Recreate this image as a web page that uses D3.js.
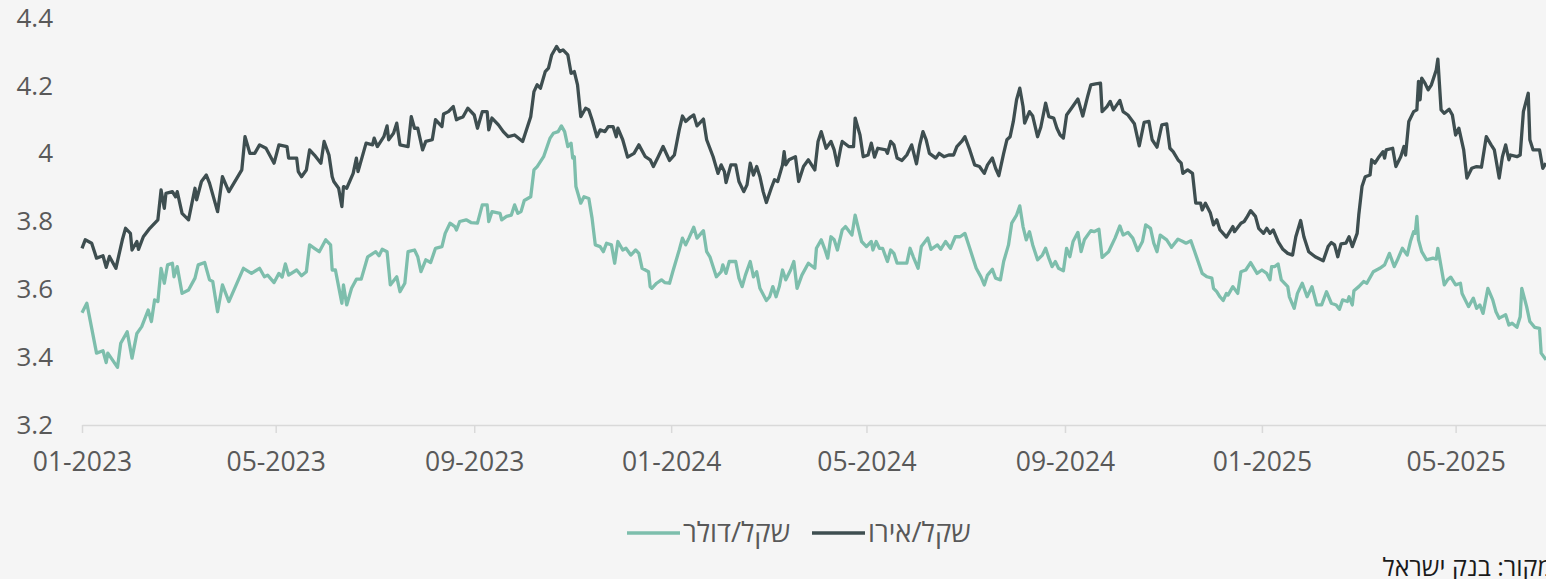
<!DOCTYPE html>
<html>
<head>
<meta charset="utf-8">
<script src="https://cdn.jsdelivr.net/npm/d3@7"></script>
<style>
  body { margin: 0; background: #f5f5f5; overflow: hidden; }
  svg { display: block; font-family: "Open Sans", "DejaVu Sans", sans-serif; }
</style>
</head>
<body>
<div id="chart"></div>
<script>
// day offsets are days since 2023-01-01
const startDate = new Date(Date.UTC(2023, 0, 1));
const lastDay = 907;

// shekel / euro  [day, rate]
const eurRate = [
  [0,3.721],[2,3.746],[6,3.736],[9,3.692],[13,3.699],[15,3.665],[17,3.697],[21,3.662],[25,3.746],[27,3.780],
  [30,3.765],[31,3.716],[34,3.741],[35,3.718],[38,3.755],[42,3.780],[47,3.805],[49,3.893],[51,3.839],[52,3.883],
  [56,3.888],[58,3.873],[59,3.888],[62,3.824],[66,3.805],[70,3.898],[71,3.864],[74,3.918],[77,3.937],[79,3.913],
  [84,3.829],[87,3.932],[91,3.888],[99,3.952],[101,4.050],[104,4.001],[107,4.001],[110,4.026],[114,4.016],[119,3.972],
  [122,4.026],[127,4.021],[128,3.987],[133,3.987],[134,3.947],[136,3.932],[139,3.952],[141,4.011],[144,3.996],[148,3.972],
  [150,4.036],[153,3.996],[155,3.932],[156,3.918],[159,3.898],[161,3.844],[162,3.903],[164,3.898],[168,3.942],[170,3.987],
  [171,3.947],[176,4.031],[180,4.026],[181,4.046],[183,4.021],[187,4.050],[189,4.082],[190,4.041],[193,4.060],[195,4.090],
  [197,4.026],[202,4.021],[204,4.109],[206,4.075],[208,4.075],[211,4.011],[213,4.036],[217,4.041],[219,4.100],[223,4.080],
  [224,4.117],[227,4.124],[230,4.139],[232,4.100],[234,4.105],[236,4.108],[239,4.134],[243,4.114],[245,4.075],[248,4.124],
  [251,4.124],[252,4.070],[254,4.105],[258,4.085],[261,4.065],[264,4.050],[268,4.055],[273,4.036],[278,4.109],[280,4.183],
  [282,4.203],[284,4.193],[287,4.242],[289,4.252],[291,4.291],[294,4.316],[296,4.301],[298,4.306],[301,4.291],[303,4.237],
  [305,4.242],[307,4.203],[309,4.109],[312,4.134],[314,4.129],[316,4.100],[319,4.050],[321,4.070],[324,4.065],[326,4.080],
  [329,4.080],[331,4.050],[332,4.075],[335,4.041],[338,3.990],[342,4.001],[345,4.026],[349,3.991],[352,3.982],[354,3.962],
  [357,3.991],[360,4.021],[364,3.980],[367,3.996],[370,4.070],[372,4.111],[374,4.095],[377,4.108],[379,4.114],[381,4.082],
  [385,4.102],[387,4.041],[391,3.991],[394,3.942],[396,3.967],[398,3.947],[399,3.915],[402,3.967],[405,3.967],[407,3.918],
  [410,3.888],[412,3.908],[414,3.972],[416,3.937],[418,3.962],[420,3.932],[422,3.888],[424,3.856],[427,3.898],[429,3.923],
  [431,3.918],[434,3.967],[435,4.006],[436,3.967],[438,3.982],[442,3.991],[444,3.918],[447,3.962],[450,3.982],[452,3.967],
  [454,3.952],[456,4.036],[458,4.065],[461,4.016],[464,4.036],[466,4.011],[468,3.965],[470,4.016],[471,4.036],[475,4.021],
  [478,4.021],[479,4.105],[482,4.055],[484,3.991],[487,3.996],[489,4.031],[491,3.990],[493,4.016],[498,4.011],[499,4.001],
  [501,4.036],[503,4.026],[505,3.987],[508,3.980],[511,3.996],[514,4.026],[517,3.970],[519,4.026],[521,4.065],[523,4.041],
  [525,4.001],[529,3.987],[531,4.001],[534,3.991],[537,3.996],[540,3.996],[542,4.021],[545,4.036],[547,4.050],[550,4.011],
  [553,3.967],[556,3.962],[559,3.942],[561,3.967],[564,3.987],[566,3.957],[568,3.935],[571,4.001],[573,4.041],[575,4.050],
  [577,4.095],[579,4.159],[581,4.193],[583,4.139],[584,4.090],[587,4.124],[589,4.111],[592,4.050],[594,4.078],[597,4.149],
  [599,4.109],[602,4.105],[604,4.075],[606,4.055],[608,4.046],[610,4.114],[613,4.134],[617,4.161],[620,4.111],[623,4.168],
  [625,4.203],[628,4.206],[631,4.208],[632,4.124],[635,4.139],[637,4.154],[639,4.129],[643,4.157],[645,4.124],[648,4.114],
  [652,4.088],[655,4.023],[658,4.092],[661,4.095],[663,4.041],[666,4.019],[669,4.085],[672,4.088],[674,4.016],[676,4.006],
  [679,3.982],[681,3.972],[682,3.942],[685,3.952],[688,3.942],[690,3.854],[693,3.854],[694,3.834],[696,3.854],[699,3.826],
  [701,3.790],[703,3.805],[705,3.775],[706,3.770],[709,3.754],[713,3.785],[714,3.770],[718,3.795],[720,3.800],[722,3.815],
  [724,3.832],[727,3.815],[729,3.780],[732,3.765],[734,3.780],[736,3.765],[738,3.775],[741,3.741],[744,3.718],[747,3.706],
  [750,3.701],[752,3.755],[755,3.803],[757,3.755],[760,3.711],[764,3.696],[769,3.684],[772,3.726],[774,3.738],[776,3.731],
  [778,3.696],[780,3.734],[783,3.736],[785,3.755],[787,3.726],[790,3.765],[791,3.819],[793,3.903],[795,3.932],[798,3.937],
  [799,3.982],[801,3.972],[803,3.987],[806,4.006],[807,3.987],[808,4.011],[812,4.016],[814,3.962],[817,3.991],[819,4.021],
  [820,3.996],[822,4.095],[825,4.124],[827,4.129],[828,4.213],[829,4.159],[830,4.223],[832,4.208],[834,4.188],[836,4.203],
  [839,4.247],[840,4.279],[842,4.129],[844,4.119],[847,4.131],[849,4.114],[851,4.055],[853,4.075],[856,4.011],[858,3.928],
  [861,3.957],[864,3.962],[867,3.960],[870,4.050],[873,4.026],[875,4.011],[878,3.928],[880,3.991],[882,4.026],[884,3.982],
  [885,3.996],[889,3.991],[891,3.996],[893,4.124],[896,4.178],[897,4.041],[899,4.011],[903,4.011],[905,3.957],[907,3.972]
];

// shekel / dollar  [day, rate]
const usdRate = [
  [0,3.531],[3,3.559],[5,3.510],[9,3.412],[13,3.419],[15,3.384],[16,3.412],[22,3.370],[24,3.441],[28,3.475],
  [31,3.397],[34,3.470],[37,3.490],[41,3.539],[43,3.505],[45,3.569],[47,3.564],[49,3.662],[51,3.618],[53,3.672],
  [56,3.677],[57,3.637],[59,3.667],[62,3.588],[66,3.598],[70,3.633],[72,3.672],[76,3.679],[79,3.628],[81,3.623],
  [84,3.534],[87,3.613],[91,3.564],[100,3.662],[105,3.647],[110,3.662],[113,3.637],[115,3.642],[119,3.620],[122,3.647],
  [124,3.636],[126,3.675],[128,3.642],[133,3.657],[136,3.640],[139,3.652],[141,3.731],[144,3.721],[147,3.711],[151,3.746],
  [154,3.731],[155,3.657],[157,3.657],[159,3.608],[161,3.559],[162,3.613],[164,3.554],[167,3.603],[170,3.630],[173,3.630],
  [177,3.696],[182,3.711],[184,3.699],[186,3.718],[189,3.711],[191,3.613],[195,3.637],[197,3.593],[200,3.618],[202,3.711],
  [206,3.716],[208,3.696],[210,3.652],[213,3.687],[216,3.679],[219,3.721],[223,3.726],[225,3.765],[228,3.795],[231,3.785],
  [232,3.775],[234,3.800],[238,3.805],[241,3.797],[245,3.795],[248,3.849],[251,3.849],[252,3.800],[254,3.829],[259,3.824],
  [260,3.805],[263,3.815],[266,3.819],[268,3.849],[270,3.824],[272,3.829],[274,3.862],[278,3.873],[280,3.952],[282,3.962],
  [286,3.991],[290,4.046],[292,4.060],[295,4.065],[297,4.082],[299,4.065],[301,4.021],[303,4.031],[304,3.987],[305,3.991],
  [306,3.903],[309,3.854],[311,3.873],[314,3.868],[316,3.810],[317,3.770],[318,3.731],[321,3.726],[323,3.711],[325,3.736],
  [328,3.731],[330,3.677],[332,3.741],[335,3.716],[337,3.721],[340,3.701],[343,3.716],[345,3.706],[347,3.662],[351,3.652],
  [352,3.608],[353,3.603],[356,3.618],[359,3.628],[361,3.620],[364,3.618],[366,3.652],[370,3.716],[372,3.751],[374,3.731],
  [376,3.751],[379,3.783],[381,3.751],[385,3.773],[387,3.711],[389,3.696],[393,3.637],[396,3.652],[397,3.672],[399,3.647],
  [401,3.682],[405,3.682],[407,3.633],[409,3.608],[411,3.642],[414,3.682],[416,3.637],[418,3.652],[420,3.603],[424,3.567],
  [426,3.578],[428,3.608],[430,3.578],[432,3.608],[434,3.657],[436,3.628],[439,3.657],[441,3.682],[443,3.603],[446,3.642],
  [450,3.677],[454,3.662],[455,3.721],[458,3.746],[460,3.721],[462,3.692],[464,3.755],[466,3.746],[468,3.716],[471,3.775],
  [473,3.785],[477,3.760],[479,3.819],[481,3.780],[483,3.741],[486,3.726],[489,3.741],[490,3.716],[492,3.741],[494,3.721],
  [496,3.721],[499,3.682],[501,3.716],[503,3.706],[505,3.677],[511,3.677],[513,3.721],[515,3.696],[518,3.662],[520,3.726],
  [524,3.751],[526,3.718],[530,3.731],[532,3.718],[535,3.741],[538,3.721],[541,3.755],[544,3.755],[547,3.765],[550,3.721],
  [554,3.662],[557,3.636],[559,3.613],[561,3.642],[564,3.659],[566,3.633],[569,3.628],[571,3.682],[574,3.731],[576,3.795],
  [579,3.819],[581,3.846],[583,3.785],[585,3.746],[587,3.770],[589,3.731],[592,3.687],[595,3.701],[597,3.721],[599,3.692],
  [601,3.667],[603,3.682],[605,3.662],[608,3.655],[610,3.721],[612,3.696],[614,3.741],[617,3.768],[619,3.711],[621,3.746],
  [625,3.773],[627,3.770],[630,3.777],[632,3.694],[636,3.711],[640,3.751],[643,3.787],[645,3.760],[648,3.768],[651,3.751],
  [654,3.714],[657,3.741],[659,3.790],[662,3.780],[664,3.736],[666,3.711],[668,3.760],[672,3.746],[675,3.724],[679,3.748],
  [682,3.741],[684,3.736],[687,3.743],[689,3.716],[694,3.647],[697,3.637],[700,3.633],[701,3.603],[703,3.593],[705,3.578],
  [707,3.567],[709,3.588],[710,3.583],[713,3.608],[716,3.588],[718,3.652],[721,3.657],[724,3.679],[728,3.647],[731,3.657],
  [734,3.647],[736,3.628],[737,3.667],[739,3.667],[741,3.675],[743,3.628],[747,3.608],[748,3.578],[751,3.544],[753,3.588],
  [756,3.618],[759,3.578],[762,3.608],[765,3.554],[768,3.554],[771,3.593],[774,3.559],[777,3.554],[779,3.541],[781,3.569],
  [784,3.564],[785,3.578],[787,3.554],[788,3.596],[791,3.608],[794,3.623],[796,3.618],[800,3.652],[804,3.662],[807,3.672],
  [810,3.706],[813,3.667],[815,3.687],[818,3.721],[821,3.701],[823,3.741],[825,3.770],[826,3.765],[827,3.815],[828,3.746],
  [830,3.711],[833,3.687],[837,3.692],[839,3.689],[840,3.721],[842,3.667],[844,3.613],[846,3.628],[848,3.636],[851,3.613],
  [854,3.618],[855,3.588],[859,3.549],[862,3.574],[864,3.544],[866,3.554],[868,3.529],[871,3.603],[874,3.569],[876,3.534],
  [878,3.515],[882,3.525],[884,3.495],[886,3.500],[889,3.488],[891,3.519],[892,3.603],[895,3.549],[897,3.505],[900,3.488],
  [903,3.485],[904,3.412],[907,3.392]
];

const yTicks = [3.2, 3.4, 3.6, 3.8, 4, 4.2, 4.4];
const seriesNames = ['שקל/דולר', 'שקל/אירו'];
const seriesColors = ['#7dbeac', '#3e4e50'];
const sourceText = 'מקור: בנק ישראל';

const width = 1546, height = 579;
const dayToDate = d => d3.utcDay.offset(startDate, d);

const x = d3.scaleUtc()
  .domain([startDate, dayToDate(lastDay)])
  .range([82, 1546]);

const y = d3.scaleLinear()
  .domain([3.2, 4.4])
  .range([425, 18]);

const svg = d3.select('#chart')
  .append('svg')
  .attr('width', width)
  .attr('height', height);

// x axis
const xAxis = svg.append('g')
  .attr('transform', 'translate(0,425)')
  .call(d3.axisBottom(x)
    .ticks(d3.utcMonth.every(4))
    .tickFormat(d3.utcFormat('%m-%Y'))
    .tickSize(8)
    .tickPadding(19)
    .tickSizeOuter(0));
xAxis.select('.domain').attr('stroke', '#d9d9d9').attr('stroke-width', 1.5);
xAxis.selectAll('.tick line').attr('stroke', '#d9d9d9').attr('stroke-width', 1.5);
xAxis.selectAll('.tick text')
  .attr('fill', '#595959')
  .style('font-size', '26.5px')
  .style('font-family', '"Open Sans", sans-serif');

// y axis (labels only)
const yAxis = svg.append('g')
  .attr('transform', 'translate(53,0)')
  .call(d3.axisLeft(y)
    .tickValues(yTicks)
    .tickFormat(d3.format('~g'))
    .tickSize(0)
    .tickPadding(0));
yAxis.select('.domain').remove();
yAxis.selectAll('.tick text')
  .attr('fill', '#595959')
  .style('font-size', '26px')
  .style('font-family', '"Open Sans", sans-serif');

// lines
const line = d3.line()
  .x(d => x(dayToDate(d[0])))
  .y(d => y(d[1]));

svg.append('path')
  .datum(usdRate)
  .attr('fill', 'none')
  .attr('stroke', seriesColors[0])
  .attr('stroke-width', 3.3)
  .attr('stroke-linejoin', 'round')
  .attr('d', line);

svg.append('path')
  .datum(eurRate)
  .attr('fill', 'none')
  .attr('stroke', seriesColors[1])
  .attr('stroke-width', 3.3)
  .attr('stroke-linejoin', 'round')
  .attr('d', line);

// legend
const legendPos = [627, 812];
const legend = svg.append('g').attr('transform', 'translate(0,533)');
seriesNames.forEach((name, i) => {
  legend.append('line')
    .attr('x1', legendPos[i]).attr('x2', legendPos[i] + 53)
    .attr('y1', 0).attr('y2', 0)
    .attr('stroke', seriesColors[i])
    .attr('stroke-width', 3.5);
  legend.append('text')
    .attr('x', legendPos[i] + 56)
    .attr('y', 9)
    .attr('fill', '#595959')
    .style('font-size', '27.5px')
    .text(name);
});

// source note, runs past the right edge like the original
svg.append('text')
  .attr('x', 1553)
  .attr('y', 576)
  .attr('text-anchor', 'end')
  .attr('fill', '#1a1a1a')
  .style('font-size', '25px')
  .text(sourceText);
</script>
</body>
</html>
